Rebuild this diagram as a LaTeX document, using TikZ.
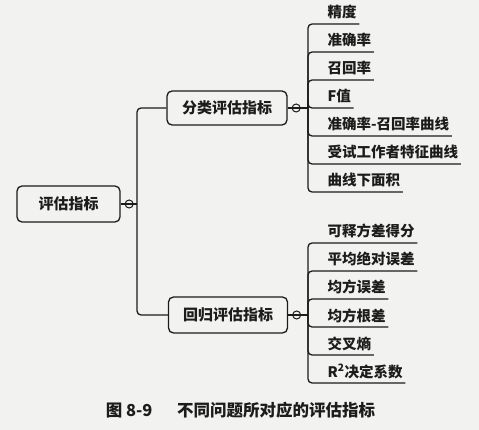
\documentclass[tikz,border=0pt]{standalone}
\usepackage{fontspec}
\setmainfont{Noto Sans CJK SC}
\usetikzlibrary{positioning}
\definecolor{paper}{RGB}{242,242,240}
\definecolor{ink}{RGB}{28,28,28}

\begin{document}
\begin{tikzpicture}[x=1pt, y=-1pt, line width=1.3pt, draw=ink, text=ink,
  topic/.style={draw, rounded corners=5pt, inner sep=0pt, font=\bfseries\fontsize{15}{15}\selectfont},
  leaf/.style={anchor=base west, inner xsep=2pt, inner ysep=0pt, font=\bfseries\fontsize{14.5}{14.5}\selectfont},
  knob/.style={draw, circle, inner sep=0pt, minimum size=8pt, line width=1pt},
  link/.style={rounded corners=4pt},
]
  \fill[paper] (0,0) rectangle (479,430);
  \useasboundingbox (0,0) rectangle (479,430);

  % topics
  \node[topic, minimum width=103pt, minimum height=36pt] (root) at (68.5,204) {评估指标};
  \node[topic, minimum width=120pt, minimum height=34pt] (cls)  at (227,108) {分类评估指标};
  \node[topic, minimum width=119pt, minimum height=36pt] (reg)  at (228,315) {回归评估指标};

  \coordinate (trunk)  at (137,204);
  \coordinate (clshub) at (308,108);
  \coordinate (reghub) at (308,315);

  \draw[link] (root.east) -- (trunk);
  \draw[link] (trunk) |- (cls.west);
  \draw[link] (trunk) |- (reg.west);
  \draw (cls.east) -- (clshub);
  \draw (reg.east) -- (reghub);

  \node[knob, right=4pt of root.east] (rootknob) {};
  \node[knob, right=4pt of cls.east]  (clsknob)  {};
  \node[knob, right=4pt of reg.east]  (regknob)  {};

  % classification leaves
  \foreach \txt [count=\i from 0] in {精度,准确率,召回率,F值,准确率-召回率曲线,受试工作者特征曲线,曲线下面积}{
    \node[leaf] (cls\i) at (325,{18+28*\i}) {\txt};
    \coordinate (clsline\i) at (308,{24+28*\i});
    \draw[link] (clshub) |- (clsline\i -| cls\i.east);
  }

  % regression leaves
  \foreach \txt [count=\i from 0] in {可释方差得分,平均绝对误差,均方误差,均方根差,交叉熵,{R\textsuperscript{2}决定系数}}{
    \node[leaf] (reg\i) at (325,{237+28*\i}) {\txt};
    \coordinate (regline\i) at (308,{243+28*\i});
    \draw[link] (reghub) |- (regline\i -| reg\i.east);
  }

  \node[font=\bfseries\fontsize{16.5}{16.5}\selectfont] (caption) at (240.5,410)
    {图 8-9\hspace{1.5em}不同问题所对应的评估指标};
\end{tikzpicture}
\end{document}
